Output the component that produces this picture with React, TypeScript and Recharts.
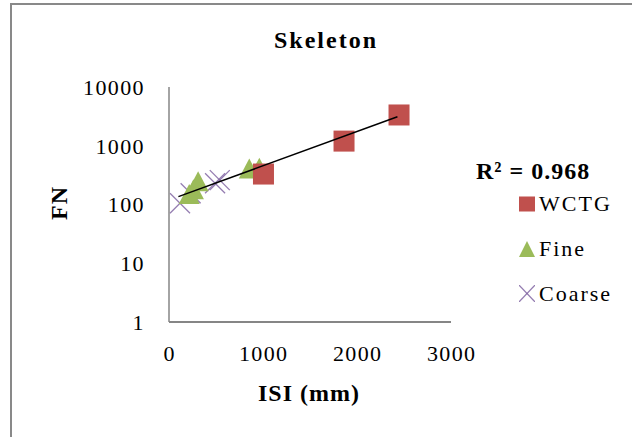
import React from 'react';
import { ScatterChart, Scatter, XAxis, YAxis } from 'recharts';

const seriesNames = ['WCTG', 'Fine', 'Coarse'];
const wctgX = [1005, 1862, 2447];
const wctgY = [330, 1200, 3340];
const fineX = [215, 260, 310, 854, 961];
const fineY = [145, 175, 240, 393, 407];
const coarseX = [117, 230, 490, 540];
const coarseY = [105, 155, 230, 260];
const trendX = [100, 2430];
const trendY = [136, 3120];
const xTicks = [0, 1000, 2000, 3000];
const yTicks = [1, 10, 100, 1000, 10000];
const chartTitle = 'Skeleton';
const xTitle = 'ISI (mm)';
const yTitle = 'FN';
const r2Text = 'R² = 0.968';

const FONT = '"Liberation Serif", "Times New Roman", serif';
const RED = '#C0504D';
const GREEN = '#9BBB59';
const PURPLE = '#8064A2';

const toPts = (xs: number[], ys: number[]) => xs.map((x, i) => ({ x, y: ys[i] }));
const wctgData = toPts(wctgX, wctgY);
const fineData = toPts(fineX, fineY);
const coarseData = toPts(coarseX, coarseY);
const trendData = toPts(trendX, trendY);

const SquareShape = (p: any) => (
  <rect x={p.cx - 10.5} y={p.cy - 10.5} width={21} height={21} fill={RED} />
);
const TriangleShape = (p: any) => (
  <polygon
    points={`${p.cx},${p.cy - 11} ${p.cx + 10.5},${p.cy + 9} ${p.cx - 10.5},${p.cy + 9}`}
    fill={GREEN}
  />
);
const CrossShape = (p: any) => (
  <g stroke={PURPLE} strokeWidth={1.3} strokeOpacity={0.85}>
    <line x1={p.cx - 10} y1={p.cy - 10} x2={p.cx + 10} y2={p.cy + 10} />
    <line x1={p.cx - 10} y1={p.cy + 10} x2={p.cx + 10} y2={p.cy - 10} />
  </g>
);
const NoShape = () => <g />;

const YTick = (p: any) => (
  <text
    x={p.x + 1}
    y={p.y}
    dy="0.355em"
    textAnchor="end"
    fill="#000"
    fontFamily={FONT}
    fontSize={22}
    letterSpacing={1.4}
  >
    {p.payload.value}
  </text>
);
const XTick = (p: any) => (
  <text
    x={p.x + 0.7}
    y={p.y}
    dy="0.71em"
    textAnchor="middle"
    fill="#000"
    fontFamily={FONT}
    fontSize={22}
    letterSpacing={1.4}
  >
    {p.payload.value}
  </text>
);

const legendSymbols = [
  <svg width={16} height={16} key="s"><rect x={0} y={0.5} width={16} height={15} fill={RED} /></svg>,
  <svg width={16} height={16} key="t"><polygon points="8,0 16,16 0,16" fill={GREEN} /></svg>,
  <svg width={16} height={17} key="c">
    <g stroke={PURPLE} strokeWidth={1.2} strokeOpacity={0.85}>
      <line x1={0} y1={0} x2={16} y2={17} />
      <line x1={0} y1={17} x2={16} y2={0} />
    </g>
  </svg>,
];

export default function App() {
  return (
    <div
      style={{
        position: 'absolute',
        left: 0,
        top: 0,
        width: 632,
        height: 437,
        overflow: 'hidden',
        background: '#fff',
      }}
    >
      <div
        style={{
          position: 'absolute',
          left: 10,
          top: 3,
          width: 800,
          height: 600,
          border: '2px solid #898989',
          boxSizing: 'border-box',
        }}
      />
      <div
        style={{
          position: 'absolute',
          left: 226,
          top: 28,
          width: 200,
          textAlign: 'center',
          fontFamily: FONT,
          fontWeight: 'bold',
          fontSize: 24,
          lineHeight: '24px',
          letterSpacing: 2,
        }}
      >
        {chartTitle}
      </div>
      <div
        style={{
          position: 'absolute',
          left: 476,
          top: 159,
          fontFamily: FONT,
          fontWeight: 'bold',
          fontSize: 24,
          lineHeight: '24px',
          letterSpacing: 1,
          whiteSpace: 'nowrap',
        }}
      >
        {r2Text}
      </div>
      <div
        style={{
          position: 'absolute',
          left: 209,
          top: 381,
          width: 200,
          textAlign: 'center',
          fontFamily: FONT,
          fontWeight: 'bold',
          fontSize: 24,
          lineHeight: '24px',
          letterSpacing: 1,
        }}
      >
        {xTitle}
      </div>
      <div
        style={{
          position: 'absolute',
          left: 58.5 - 40,
          top: 202.5 - 12,
          width: 80,
          height: 24,
          textAlign: 'center',
          fontFamily: FONT,
          fontWeight: 'bold',
          fontSize: 24,
          lineHeight: '24px',
          letterSpacing: 1,
          transform: 'rotate(-90deg)',
        }}
      >
        {yTitle}
      </div>
      <div
        style={{
          position: 'absolute',
          left: 519,
          top: 182,
          fontFamily: FONT,
          fontSize: 22,
          color: '#000',
        }}
      >
        {seriesNames.map((n, i) => (
          <div key={n} style={{ display: 'flex', alignItems: 'center', height: 44.7 }}>
            {legendSymbols[i]}
            <span style={{ marginLeft: 4, lineHeight: '22px', letterSpacing: 2 }}>{n}</span>
          </div>
        ))}
      </div>
      <div style={{ position: 'absolute', left: 0, top: 0 }}>
        <ScatterChart
          width={632}
          height={437}
          margin={{ top: 87, right: 181, bottom: 0, left: 0 }}
        >
          <XAxis
            type="number"
            dataKey="x"
            domain={[0, 3000]}
            ticks={xTicks}
            allowDataOverflow
            height={115}
            tickSize={0}
            tickMargin={23}
            tickLine={false}
            axisLine={{ stroke: '#868686', strokeWidth: 2 }}
            tick={<XTick />}
          />
          <YAxis
            type="number"
            dataKey="y"
            scale="log"
            domain={[1, 10000]}
            ticks={yTicks}
            allowDataOverflow
            width={169}
            tickSize={0}
            tickMargin={25}
            tickLine={false}
            axisLine={{ stroke: '#868686', strokeWidth: 1.5 }}
            tick={<YTick />}
          />
          <Scatter
            name="Coarse"
            data={coarseData}
            shape={<CrossShape />}
            isAnimationActive={false}
          />
          <Scatter
            name="Fine"
            data={fineData}
            shape={<TriangleShape />}
            isAnimationActive={false}
          />
          <Scatter
            name="WCTG"
            data={wctgData}
            shape={<SquareShape />}
            isAnimationActive={false}
          />
          <Scatter
            name="trend"
            data={trendData}
            shape={<NoShape />}
            line={{ stroke: '#000', strokeWidth: 1.5 }}
            legendType="none"
            isAnimationActive={false}
          />
        </ScatterChart>
      </div>
    </div>
  );
}
